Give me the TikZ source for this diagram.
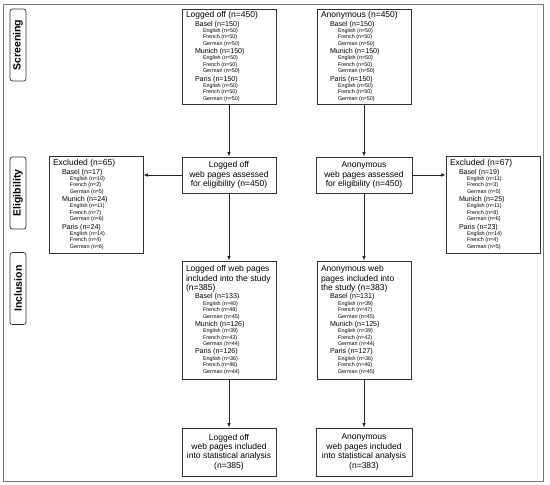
\documentclass[tikz,border=0pt]{standalone}
\usepackage{fontspec}
\setmainfont{Liberation Sans}
\usetikzlibrary{arrows.meta}
\newcommand\Nsp{\spaceskip=0pt\xspaceskip=0pt\relax}
\newcommand\Ttl[1]{{\fontsize{8.5}{9.3}\selectfont\Nsp #1\par}}
\newcommand\Cty[1]{{\fontsize{7.1}{8.3}\selectfont\Nsp\hspace*{9pt}#1\par}}
\newcommand\Lng[1]{{\fontsize{5.4}{6.4}\selectfont\Nsp\hspace*{17pt}#1\par}}
\newcommand\Grp[4]{\Cty{#1}\Lng{English (n=#2)}\Lng{French (n=#3)}\Lng{German (n=#4)}}
\tikzset{
  box/.style={draw=black!80, line width=0.7pt, fill=white, inner xsep=4pt, inner ysep=0pt,
    text width=86pt, align=left, execute at begin node={\setlength\parindent{0pt}}},
  cbox/.style={draw=black!80, line width=0.7pt, fill=white, inner sep=0pt,
    align=center, font=\fontsize{8.5}{9.4}\selectfont},
  side/.style={draw=black!80, line width=0.7pt, rounded corners=2.5pt, rotate=90,
    minimum width=72pt, minimum height=16pt, inner sep=0pt,
    font=\bfseries\fontsize{10.5}{12}\selectfont},
  arr/.style={draw=black!85, line width=0.8pt, -{Latex[length=4.5pt,width=3.5pt]}},
}
\begin{document}
\begin{tikzpicture}[x=1pt,y=-1pt]
\useasboundingbox (0,0) rectangle (550,485);
\fill[white] (0,0) rectangle (550,485);
\draw[black!55, line width=0.8pt] (3,4) rectangle (543,481);

\node[side] (s1) at (18,45) {Screening};
\node[side] (s2) at (18,193) {Eligibility};
\node[side] (s3) at (18,288.5) {Inclusion};

\node[box, minimum height=95pt] (topL) at (229,56.5) {%
\Ttl{Logged off (n=450)}\Grp{Basel (n=150)}{50}{50}{50}\Grp{Munich (n=150)}{50}{50}{50}\Grp{Paris (n=150)}{50}{50}{50}};
\node[box, minimum height=95pt] (topR) at (364,56.5) {%
\Ttl{Anonymous (n=450)}\Grp{Basel (n=150)}{50}{50}{50}\Grp{Munich (n=150)}{50}{50}{50}\Grp{Paris (n=150)}{50}{50}{50}};

\node[cbox, minimum width=94pt, minimum height=36pt] (eligL) at (229,175) {\Nsp Logged off\\\Nsp web pages assessed\\\Nsp for eligibility (n=450)};
\node[cbox, minimum width=96pt, minimum height=36pt] (eligR) at (364,175) {\Nsp Anonymous\\\Nsp web pages assessed\\\Nsp for eligibility (n=450)};

\node[box, minimum height=97pt] (exclL) at (96,204.5) {%
\Ttl{Excluded (n=65)}\Grp{Basel (n=17)}{10}{2}{5}\Grp{Munich (n=24)}{11}{7}{6}\Grp{Paris (n=24)}{14}{4}{6}};
\node[box, minimum height=97pt] (exclR) at (493,204.5) {%
\Ttl{Excluded (n=67)}\Grp{Basel (n=19)}{11}{3}{5}\Grp{Munich (n=25)}{11}{8}{6}\Grp{Paris (n=23)}{14}{4}{5}};

\node[box, minimum height=118pt] (inclL) at (229,320) {%
\Ttl{Logged off web pages}\Ttl{included into the study}\Ttl{(n=385)}%
\Grp{Basel (n=133)}{40}{48}{45}\Grp{Munich (n=126)}{39}{43}{44}\Grp{Paris (n=126)}{36}{46}{44}};
\node[box, minimum height=118pt] (inclR) at (364,320) {%
\Ttl{Anonymous web}\Ttl{pages included into}\Ttl{the study (n=383)}%
\Grp{Basel (n=131)}{39}{47}{45}\Grp{Munich (n=125)}{39}{42}{44}\Grp{Paris (n=127)}{36}{46}{45}};

\node[cbox, minimum width=94pt, minimum height=48pt] (botL) at (229,452) {\Nsp Logged off\\\Nsp web pages included\\\Nsp into statistical analysis\\(n=385)};
\node[cbox, minimum width=96pt, minimum height=48pt] (botR) at (364,452) {\Nsp Anonymous\\\Nsp web pages included\\\Nsp into statistical analysis\\(n=383)};

\draw[arr] (topL) -- (eligL);
\draw[arr] (topR) -- (eligR);
\draw[arr] (eligL) -- (inclL);
\draw[arr] (eligR) -- (inclR);
\draw[arr] (inclL) -- (botL);
\draw[arr] (inclR) -- (botR);
\draw[arr] (eligL.west) -- (eligL.west -| exclL.east);
\draw[arr] (eligR.east) -- (eligR.east -| exclR.west);
\end{tikzpicture}
\end{document}
